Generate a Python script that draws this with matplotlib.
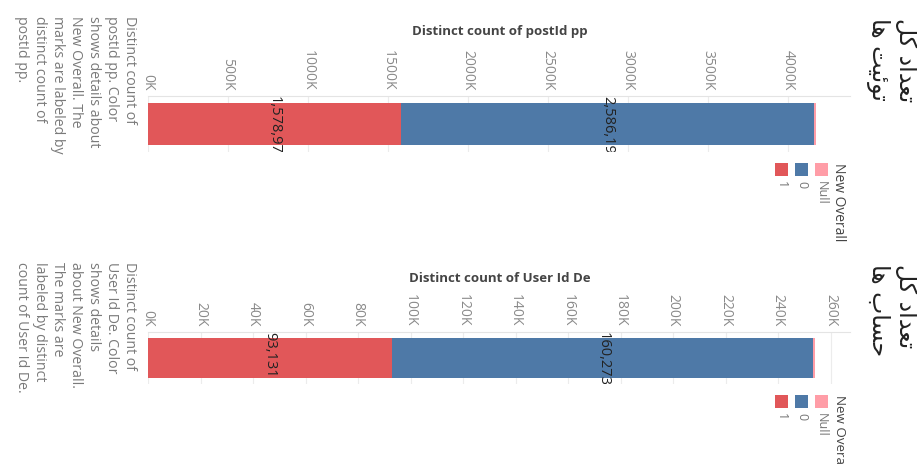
import matplotlib
matplotlib.use("Agg")
import matplotlib.pyplot as plt
from matplotlib.patches import Rectangle

# ---------------- data ----------------
categories = ["1", "0", "Null"]
colors = ["#E15759", "#4E79A7", "#FF9DA7"]
post_counts = [1578975, 2586190, 8000]
user_counts = [93131, 160273, 600]
post_ticks = [0, 500, 1000, 1500, 2000, 2500, 3000, 3500, 4000]          # in K
user_ticks = [0, 20, 40, 60, 80, 100, 120, 140, 160, 180, 200, 220, 240, 260]  # in K
post_title = "Distinct count of postId pp"
user_title = "Distinct count of User Id De"
post_note = ("Distinct count of\npostId pp. Color\nshows details about\nNew Overall. The\n"
             "marks are labeled by\ndistinct count of\npostId pp.")
user_note = ("Distinct count of\nUser Id De. Color\nshows details\nabout New Overall.\n"
             "The marks are\nlabeled by distinct\ncount of User Id De.")
legend_title_top = "New Overall"
legend_title_bottom = "New Overal"   # cut at the lower edge in the reference
# Persian headers, pre-shaped (presentation forms) in visual order
fa_total = "\uFEDE\uFEDB \uFEA9\uFE8D\uFEAA\uFECC\uFE97"        # تعداد کل
fa_tweets = "\uFE8E\uFEEB \uFE96\uFEF4\uFE8B\uFEEE\uFE97"       # توئیت ها
fa_accounts = "\uFE8E\uFEEB \uFE8F\uFE8E\uFEB4\uFEA3"           # حساب ها

W, H = 917, 466
fig = plt.figure(figsize=(W / 100, H / 100), dpi=100)
fig.patch.set_facecolor("white")
FONT = ["Open Sans", "DejaVu Sans"]


def fx(px):
    return px / W


def fy(py):
    return 1 - py / H


def make_axes(top, bottom, left=148, right=850):
    return fig.add_axes([fx(left), fy(bottom), fx(right) - fx(left), (bottom - top) / H])


def draw_panel(ax, values, ticks, xmax, title, title_y, note, note_top,
               fa1, fa2, fa_top, legend_title, legend_top, legend_size):
    left = 0
    for v, c in zip(values, colors):
        ax.barh(0.5, v, left=left, height=0.76, color=c, edgecolor="none")
        if v > xmax * 0.05:
            ax.text(left + v / 2, 1.0, f"{v:,}", rotation=-90, ha="center", va="top",
                    fontsize=10.5, color="#222", clip_on=True, family=FONT)
        left += v
    ax.set_xlim(0, xmax)
    ax.set_ylim(0, 1)
    ax.set_yticks([])
    ax.xaxis.tick_top()
    ax.set_xticks([t * 1000 for t in ticks])
    ax.set_xticklabels([f"{t}K" for t in ticks], rotation=-90, fontsize=10,
                       color="#8a8a8a", family=FONT)
    ax.tick_params(axis="x", length=0, pad=4)
    ax.grid(axis="x", color="#ececec", linewidth=0.8)
    ax.set_axisbelow(True)
    for s in ["bottom", "left", "right"]:
        ax.spines[s].set_visible(False)
    ax.spines["top"].set_color("#e4e4e4")
    ax.spines["top"].set_linewidth(0.8)

    fig.text(fx(500), fy(title_y), title, ha="center", va="center", fontsize=9.5,
             fontweight="bold", color="#444", family=FONT)
    fig.text(fx(137), fy(note_top), note, rotation=-90, ha="right", va="top",
             multialignment="left", fontsize=10.2, color="#7a7a7a", linespacing=1.27,
             family=FONT)
    fig.text(fx(918), fy(fa_top), fa1 + "\n" + fa2, rotation=-90, ha="right", va="top",
             multialignment="left", fontsize=17, color="#222", linespacing=1.15,
             family=["DejaVu Sans"])
    # legend
    fig.text(fx(846), fy(legend_top), legend_title, rotation=-90, ha="right", va="top",
             fontsize=legend_size, color="#444", family=FONT)
    xs = [775, 795, 815]
    for x0, c, lab in zip(xs, colors, categories):
        fig.patches.append(Rectangle((fx(x0), fy(legend_top + 13)), 13 / W, 13 / H,
                                     transform=fig.transFigure, facecolor=c,
                                     edgecolor="none"))
        fig.text(fx(x0 + 6.5), fy(legend_top + 18), lab, rotation=-90, ha="center",
                 va="top", fontsize=9, color="#777", family=FONT)


ax1 = make_axes(96, 152)
draw_panel(ax1, post_counts, post_ticks, 4387500, post_title, 32, post_note, 16,
           fa_total, fa_tweets, 18, legend_title_top, 163, 10)

ax2 = make_axes(332, 384)
draw_panel(ax2, user_counts, user_ticks, 267400, user_title, 278, user_note, 262,
           fa_total, fa_accounts, 264, legend_title_bottom, 395, 9.6)

fig.savefig("out.png", dpi=100, facecolor="white")
